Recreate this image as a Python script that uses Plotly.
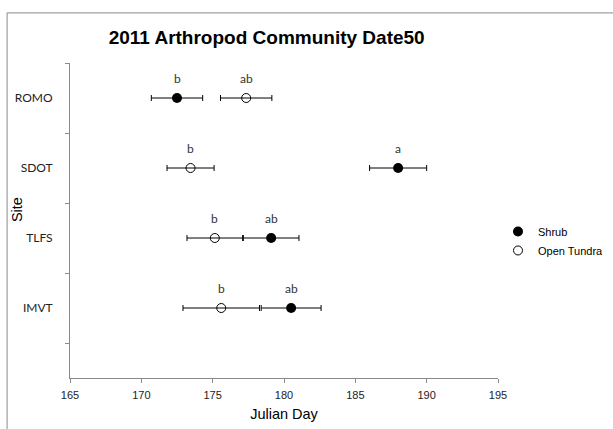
import plotly.graph_objects as go

sites = ["ROMO", "SDOT", "TLFS", "IMVT"]
site_pos = [4, 3, 2, 1]

shrub_mean = [172.5, 188.0, 179.1, 180.5]
shrub_err = [1.8, 2.0, 1.95, 2.1]
shrub_letters = ["b", "a", "ab", "ab"]

open_mean = [177.35, 173.45, 175.15, 175.6]
open_err = [1.8, 1.65, 1.95, 2.68]
open_letters = ["ab", "b", "b", "b"]

x_ticks = [165, 170, 175, 180, 185, 190, 195]

fig = go.Figure()
fig.add_trace(go.Scatter(
    x=shrub_mean, y=site_pos, mode="markers", name="Shrub",
    marker=dict(symbol="circle", size=10, color="black"),
    error_x=dict(type="data", array=shrub_err, color="black", thickness=1, width=3),
))
fig.add_trace(go.Scatter(
    x=open_mean, y=site_pos, mode="markers", name="Open Tundra",
    marker=dict(symbol="circle-open", size=9, color="black", line=dict(width=1, color="black")),
    error_x=dict(type="data", array=open_err, color="black", thickness=1, width=3),
))

for xs, lets in ((shrub_mean, shrub_letters), (open_mean, open_letters)):
    for xv, yv, t in zip(xs, site_pos, lets):
        fig.add_annotation(x=xv, y=yv, text=t, showarrow=False, yshift=20,
                           font=dict(family="Lato", size=12, color="#333333"))

# y axis title
fig.add_annotation(xref="paper", yref="paper", x=-0.124, y=0.536, text="Site", textangle=-90,
                   showarrow=False, xanchor="center", yanchor="middle",
                   font=dict(family="Liberation Sans", size=14.5, color="black"))

# chart frame (partially cropped at right/bottom)
fig.add_shape(type="rect", xref="paper", yref="paper", x0=-0.147, y0=-0.2, x1=1.3, y1=1.159,
              line=dict(color="#8a8a8a", width=1), layer="below")

fig.update_layout(
    width=613, height=429,
    margin=dict(l=70, r=115, t=63, b=51, autoexpand=False),
    paper_bgcolor="white", plot_bgcolor="white",
    title=dict(text="<b>2011 Arthropod Community Date50</b>", x=0.435, xanchor="center",
               y=0.913, yanchor="middle",
               font=dict(family="Liberation Sans", size=19, color="black")),
    showlegend=True,
    legend=dict(x=1.0, y=0.435, xanchor="left", yanchor="middle",
                font=dict(family="Liberation Sans", size=11, color="black"),
                itemwidth=30, tracegroupgap=0, bgcolor="rgba(0,0,0,0)"),
    font=dict(family="Liberation Sans"),
)
fig.update_xaxes(range=[165, 195], tickvals=x_ticks, ticks="outside", ticklen=4,
                 tickcolor="#8a8a8a", showline=True, linecolor="#8a8a8a", showgrid=False,
                 zeroline=False, automargin=False, ticklabelstandoff=3,
                 tickfont=dict(family="Liberation Sans", size=11, color="#222222"),
                 title=dict(text="Julian Day", font=dict(family="Liberation Sans", size=14.5, color="black"),
                            standoff=8))
fig.update_yaxes(range=[0, 4.5], tickvals=site_pos, ticktext=sites, ticks="",
                 minor=dict(tick0=0.5, dtick=1, ticks="outside", ticklen=4, tickcolor="#8a8a8a",
                            showgrid=False),
                 showline=True, linecolor="#8a8a8a", showgrid=False, zeroline=False, automargin=False,
                 ticklabelstandoff=14,
                 tickfont=dict(family="Lato", size=12, color="#222222"))

fig.write_html("out.html", config={"displayModeBar": False},
               post_script="document.body.style.margin='0';")
